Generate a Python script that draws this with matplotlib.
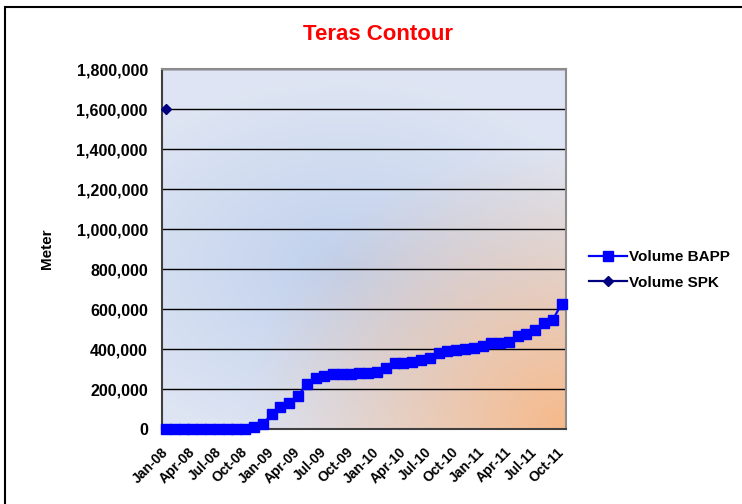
import numpy as np
import matplotlib
matplotlib.use("Agg")
import matplotlib.pyplot as plt
from matplotlib.patches import Rectangle
from matplotlib.lines import Line2D

plt.rcParams['font.family'] = ['Liberation Sans', 'DejaVu Sans']
plt.rcParams['font.weight'] = 'bold'

# monthly categories Jan-08 .. Oct-11
years = ['08', '09', '10', '11']
mons = ['Jan', 'Feb', 'Mar', 'Apr', 'May', 'Jun', 'Jul', 'Aug', 'Sep', 'Oct', 'Nov', 'Dec']
months = [m + '-' + y for y in years for m in mons][:46]

volume_bapp = [0, 0, 0, 0, 0, 0, 0, 0, 0, 0,
               10000, 23000, 75000, 108000, 132000, 167000, 223000, 257000, 265000, 273000,
               273000, 275000, 278000, 282000, 283000, 304000, 331000, 330000, 337000, 347000,
               355000, 382000, 390000, 397000, 402000, 405000, 415000, 428000, 432000, 437000,
               465000, 477000, 495000, 530000, 545000, 627000]
volume_spk = [1600000] + [np.nan] * 45

yticks = list(range(0, 1800001, 200000))

fig = plt.figure(figsize=(7.42, 5.04), dpi=100)
ax = fig.add_axes([161.7 / 742, 1 - 429 / 504, (566 - 161.7) / 742, (429 - 69) / 504])

# gradient background (light blue -> orange in the lower right)
ny, nx = 200, 300
u, v = np.meshgrid(np.linspace(0, 1, nx), np.linspace(1, 0, ny))
light = np.array([0.871, 0.898, 0.953])
blue = np.array([0.752, 0.816, 0.929])
orange = np.array([0.965, 0.725, 0.54])
img = np.ones((ny, nx, 3)) * light
db = np.sqrt(((u - 0.45) / 0.9) ** 2 + ((v - 0.45) / 0.7) ** 2)
wb = np.clip(1 - db / 0.75, 0, 1)[..., None]
img = img * (1 - wb) + blue * wb
do = np.sqrt(((u - 1.0) / 1.0) ** 2 + ((v - 0.0) / 1.0) ** 2)
wo = (np.clip(1 - do / 0.8, 0, 1) ** 1.1)[..., None]
img = img * (1 - wo) + orange * wo
ax.imshow(img, extent=[0, 1, 0, 1], transform=ax.transAxes, aspect='auto', zorder=0)

x = np.arange(len(months))
ax.plot(x, volume_bapp, color='#0000ff', marker='s', markersize=6.8, lw=1.6,
        clip_on=False, zorder=3, label='Volume BAPP')
ax.plot(x, volume_spk, color='#000080', marker='D', markersize=5, lw=1.6,
        clip_on=False, zorder=3, label='Volume SPK')

ax.set_xlim(-0.5, len(months) - 0.5)
ax.set_ylim(0, 1800000)
ax.set_yticks(yticks)
ax.set_yticklabels([f'{t:,}' for t in yticks], fontsize=11.5, fontweight='bold')
ax.yaxis.grid(True, color='black', lw=1)
for gl in ax.get_ygridlines():
    gl.set_zorder(1)
ax.set_xticks(x[::3])
ax.set_xticklabels(months[::3], rotation=45, ha='right', va='center', rotation_mode='anchor',
                   fontsize=10, fontweight='bold')
ax.tick_params(axis='y', length=0, pad=10)
ax.tick_params(axis='x', length=0, pad=15)
for s in ['top', 'right']:
    ax.spines[s].set_color('#8c8c8c')
for s in ['left', 'bottom']:
    ax.spines[s].set_color('#404040')
for s in ax.spines.values():
    s.set_linewidth(1.5)

ax.set_ylabel('Meter', fontsize=11, fontweight='bold', labelpad=16)

fig.text(378 / 742, 1 - 35 / 504, 'Teras Contour', color='red', fontsize=16,
         fontweight='bold', ha='center', va='center')

handles = [Line2D([], [], color='#0000ff', marker='s', markersize=6.8, lw=1.6),
           Line2D([], [], color='#000080', marker='D', markersize=5, lw=1.6)]
fig.legend(handles, ['Volume BAPP', 'Volume SPK'], loc='center left',
           bbox_to_anchor=(575 / 742, 1 - 270 / 504), frameon=False,
           prop={'size': 11, 'weight': 'bold'}, handlelength=2.5, labelspacing=0.75,
           handletextpad=0.15)

# chart area frame
fig.patches.append(Rectangle((5 / 742, -0.1), 1.2, 1 - 7 / 504 + 0.1, transform=fig.transFigure,
                             fill=False, edgecolor='black', lw=1.5))

fig.savefig('out.png', dpi=100)
